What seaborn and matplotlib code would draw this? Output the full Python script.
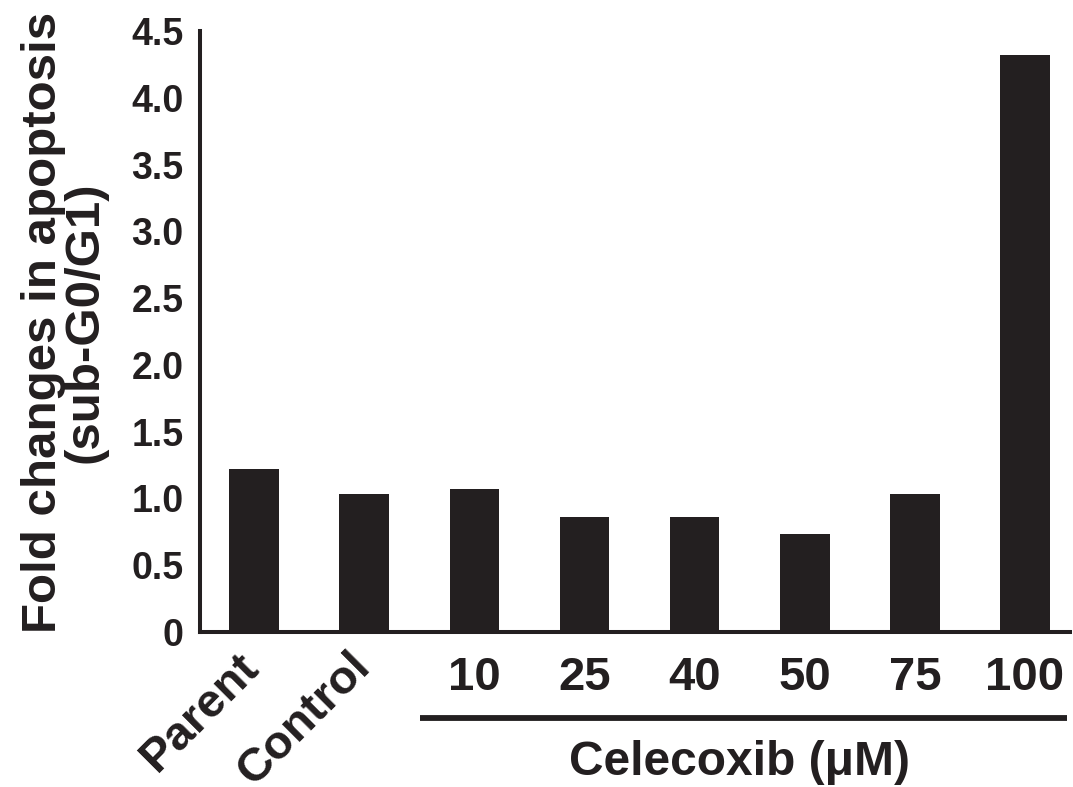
import matplotlib
matplotlib.use("Agg")
import matplotlib.pyplot as plt
import matplotlib.transforms as mtransforms
import seaborn as sns
import pandas as pd

# ------------------------------------------------------------
# dados
# ------------------------------------------------------------
grupos = ["Parent", "Control", "10", "25", "40", "50", "75", "100"]
valores = [1.22, 1.03, 1.07, 0.86, 0.86, 0.73, 1.03, 4.32]
yticks = [0, 0.5, 1.0, 1.5, 2.0, 2.5, 3.0, 3.5, 4.0, 4.5]
ytick_labels = ["0", "0.5", "1.0", "1.5", "2.0", "2.5", "3.0", "3.5", "4.0", "4.5"]

df = pd.DataFrame({"grupo": grupos, "valor": valores})

sns.set_theme(style="white")
plt.rcParams["font.family"] = ["Liberation Sans", "DejaVu Sans"]
plt.rcParams["font.weight"] = "bold"

cor = "#231f20"

fig = plt.figure(figsize=(10.73, 7.87), dpi=100)
ax = fig.add_axes([0.1864, 0.197, 0.811, 0.7636])

sns.barplot(data=df, x="grupo", y="valor", color=cor, width=0.45,
            saturation=1, edgecolor=cor, linewidth=0, ax=ax)

ax.set_ylim(0, 4.5)
ax.set_xlim(-0.49, 7.41)
ax.set_yticks(yticks)
ax.set_yticklabels(ytick_labels, fontsize=27, fontweight="bold", color=cor)
ax.tick_params(axis="y", direction="in", length=13, width=2.9, color=cor, pad=12)
ax.tick_params(axis="x", length=0, pad=17)

for lado in ["top", "right"]:
    ax.spines[lado].set_visible(False)
for lado in ["left", "bottom"]:
    ax.spines[lado].set_linewidth(2.9)
    ax.spines[lado].set_color(cor)

# rótulos do eixo x (Parent e Control inclinados)
ax.set_xticks(range(len(grupos)))
ax.set_xticklabels(grupos, fontsize=34, fontweight="bold", color=cor)
desloc = mtransforms.ScaledTranslation(-12 / 72, 8 / 72, fig.dpi_scale_trans)
for i, lbl in enumerate(ax.get_xticklabels()):
    if i < 2:
        lbl.set_rotation(45)
        lbl.set_ha("right")
        lbl.set_va("top")
        lbl.set_rotation_mode("anchor")
        lbl.set_fontsize(34)
        lbl.set_transform(lbl.get_transform() + desloc)

ax.set_xlabel("")
ax.set_ylabel("Fold changes in apoptosis\n(sub-G0/G1)", fontsize=35.5,
              fontweight="bold", color=cor, linespacing=0.92)
ax.yaxis.set_label_coords(-0.106, 0.515)

# barra do Celecoxib
trans = mtransforms.blended_transform_factory(ax.transData, ax.transAxes)
ax.plot([1.51, 7.38], [-0.143, -0.143], color=cor, lw=4.2,
        transform=trans, clip_on=False, solid_capstyle="butt")
ax.text(4.41, -0.218, "Celecoxib (\u03bcM)", transform=trans, ha="center",
        va="center", fontsize=34.5, fontweight="bold", color=cor)

fig.savefig("out.png", dpi=100)
